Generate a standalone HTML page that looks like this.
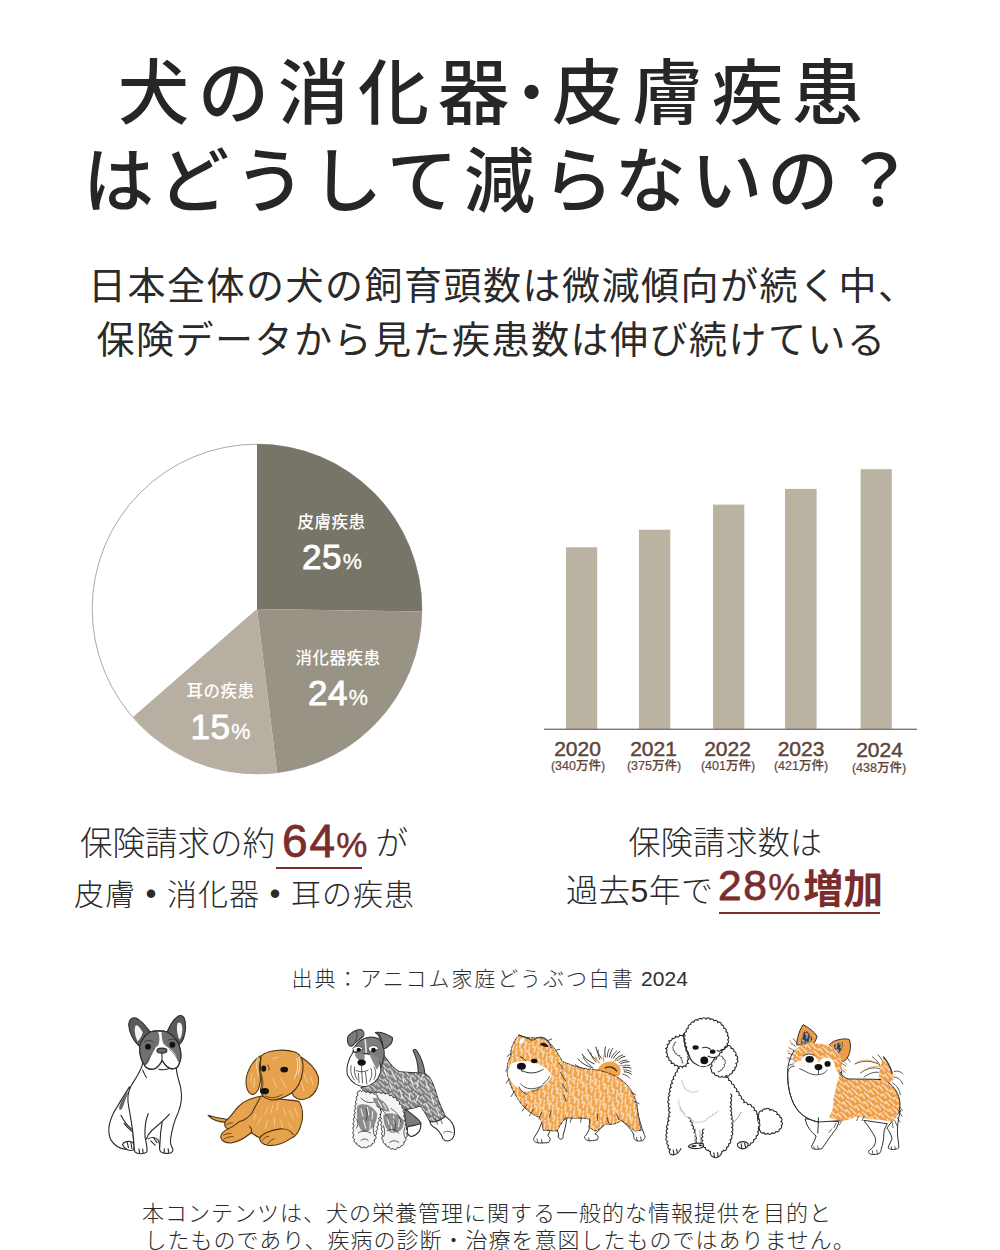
<!DOCTYPE html>
<html lang="ja">
<head>
<meta charset="utf-8">
<title>犬の消化器・皮膚疾患はどうして減らないの？</title>
<style>
html,body{margin:0;padding:0;background:#fff;}
body{width:1000px;height:1250px;position:relative;overflow:hidden;
  font-family:"Liberation Sans","Noto Sans CJK JP",sans-serif;color:#2a2a2a;}
.t{position:absolute;white-space:nowrap;line-height:1;margin:0;}
.title{font-size:71px;font-weight:500;letter-spacing:11px;color:#262626;font-feature-settings:"palt";}
.k span{position:relative;}
.sub{font-size:38px;font-weight:400;letter-spacing:1.5px;color:#2a2a2a;}
.cap{font-size:32px;font-weight:300;letter-spacing:.3px;color:#2a2a2a;}
.num{color:#7b2d2d;-webkit-text-stroke:.8px #7b2d2d;}
.cap b{font-weight:900;}
.ul{position:absolute;height:2.2px;background:#7b2d2d;}
.src{font-size:21px;font-weight:300;color:#2e2e2e;letter-spacing:1.9px;}
.foot{font-size:22px;font-weight:300;color:#2a2a2a;letter-spacing:1px;}
svg{position:absolute;left:0;top:0;}
svg text{font-family:"Liberation Sans","Noto Sans CJK JP",sans-serif;}
</style>
</head>
<body>

<!-- Title -->
<div class="t title" style="left:118px;top:58px;letter-spacing:9px;font-feature-settings:normal;">犬の消化器<span style="display:inline-block;width:43px;height:71px;vertical-align:top;position:relative;margin-left:-9px;letter-spacing:0;"><span style="position:absolute;left:-8px;top:6px;font-size:61px;line-height:1;font-weight:500;">・</span></span>皮膚疾患</div>
<div class="t title k" style="left:84px;top:146px;"><span style="left:-1px">は</span><span style="left:-7px">ど</span><span style="left:-3px">う</span><span style="left:4px">し</span><span style="left:8px">て</span><span style="left:6px">減</span><span style="left:8px">ら</span><span style="left:2px">な</span><span style="left:-1px">い</span><span style="left:-3px">の</span><span style="left:2px">？</span></div>

<!-- Subtitle -->
<div class="t sub" style="left:88px;top:267px;">日本全体の犬の飼育頭数は微減傾向が続く中、</div>
<div class="t sub" style="left:96.5px;top:320.5px;">保険データから見た疾患数は伸び続けている</div>

<!-- Charts -->
<svg width="1000" height="1250" viewBox="0 0 1000 1250">
  <!-- pie -->
  <g id="pie">
    <circle cx="257" cy="609" r="164.8" fill="#fff" stroke="#a9a9a9" stroke-width="1"/>
    <path d="M257,609 L257,444 A165,165 0 0 1 421.9,611.6 Z" fill="#777468"/>
    <path d="M257,609 L421.9,611.6 A165,165 0 0 1 277,772.8 Z" fill="#999385"/>
    <path d="M257,609 L277,772.8 A165,165 0 0 1 133,717 Z" fill="#b7b0a2"/>
  </g>
  <g fill="#fff">
    <text x="331.5" y="528" font-size="16.5" font-weight="500" text-anchor="middle" letter-spacing="0.5">皮膚疾患</text>
    <text x="302" y="568.5" font-size="35" letter-spacing="0.6" stroke="#fff" stroke-width="0.9">25<tspan font-size="21.5" dx="0.5" stroke-width="0.3">%</tspan></text>
    <text x="338" y="664" font-size="16.5" font-weight="500" text-anchor="middle" letter-spacing="0.5">消化器疾患</text>
    <text x="308" y="704.5" font-size="35" letter-spacing="0.6" stroke="#fff" stroke-width="0.9">24<tspan font-size="21.5" dx="0.5" stroke-width="0.3">%</tspan></text>
    <text x="220.5" y="697" font-size="16.5" font-weight="500" text-anchor="middle" letter-spacing="0.5">耳の疾患</text>
    <text x="190.5" y="738.5" font-size="35" letter-spacing="0.6" stroke="#fff" stroke-width="0.9">15<tspan font-size="21.5" dx="0.5" stroke-width="0.3">%</tspan></text>
  </g>

  <!-- bars -->
  <g fill="#bbb3a1">
    <rect x="566" y="547.3" width="31.2" height="182"/>
    <rect x="639" y="529.7" width="31.3" height="200"/>
    <rect x="713" y="504.6" width="31.3" height="225"/>
    <rect x="785" y="488.9" width="31.6" height="241"/>
    <rect x="860.6" y="469.2" width="31.2" height="260"/>
  </g>
  <rect x="544" y="728.6" width="373" height="1.4" fill="#8a726b"/>
  <g fill="#5e4438" text-anchor="middle" stroke="#5e4438">
    <g font-size="21" stroke-width="0.45">
      <text x="577.5" y="755.6">2020</text>
      <text x="653.5" y="755.6">2021</text>
      <text x="727.5" y="755.6">2022</text>
      <text x="801" y="755.6">2023</text>
      <text x="879.5" y="757">2024</text>
    </g>
    <g font-size="12.5" font-weight="500" stroke-width="0.2">
      <text x="578" y="770.3">(340万件)</text>
      <text x="654" y="770.3">(375万件)</text>
      <text x="728" y="770.3">(401万件)</text>
      <text x="801" y="770.3">(421万件)</text>
      <text x="879" y="772.3">(438万件)</text>
    </g>
  </g>
</svg>

<!-- Captions -->
<div class="t cap" style="left:80px;top:828px;font-size:32.5px;letter-spacing:0;">保険請求の約</div>
<div class="t num" style="left:282px;top:817.5px;font-size:46px;letter-spacing:2px;">64<span style="font-size:35px;margin-left:-1px;letter-spacing:0;-webkit-text-stroke-width:.5px;">%</span></div>
<div class="t cap" style="left:375.5px;top:828px;font-size:32.5px;">が</div>
<div class="ul" style="left:276px;top:866.7px;width:85.5px;"></div>
<div class="t cap" style="left:74px;top:879.5px;font-size:30px;letter-spacing:1px;">皮膚<b>・</b>消化器<b>・</b>耳の疾患</div>

<div class="t cap" style="left:628.5px;top:827px;">保険請求数は</div>
<div class="t cap" style="left:566px;top:875px;">過去5年で</div>
<div class="t num" style="left:718px;top:865px;font-size:42.5px;letter-spacing:1.5px;">28<span style="font-size:36px;margin-left:0px;-webkit-text-stroke-width:.5px;letter-spacing:0;">%</span><span style="font-size:40px;font-weight:700;-webkit-text-stroke-width:0;margin-left:3px;letter-spacing:0;position:relative;top:2.5px;">増加</span></div>
<div class="ul" style="left:719px;top:912.2px;width:161px;"></div>

<!-- Dogs -->
<svg width="1000" height="1250" viewBox="0 0 1000 1250" fill="none" stroke="#333" stroke-linecap="round" stroke-linejoin="round">
<defs>
  <pattern id="hatch" patternUnits="userSpaceOnUse" width="62" height="54" patternTransform="rotate(28)">
    <path d="M6,2 L14,36 M36,20 L46,52 M24,-8 L29,10 M54,-4 L58,14" stroke="#fff" stroke-width="8" stroke-opacity=".8" fill="none"/>
  </pattern>
  <pattern id="hatch2" patternUnits="userSpaceOnUse" width="70" height="60" patternTransform="rotate(-24)">
    <path d="M6,2 L16,42 M40,20 L52,58 M28,-8 L33,12 M60,-4 L65,16" stroke="#fff" stroke-width="9" stroke-opacity=".8" fill="none"/>
  </pattern>
</defs>
<!-- DOGS START -->
<g id="dog-frenchbulldog" transform="translate(90,1005) scale(0.124)" stroke-width="9" stroke="#2c2c2c">
  <!-- haunch / back -->
  <path d="M318,660 C280,720 230,800 190,870 C150,950 140,1030 170,1090 C200,1140 250,1160 290,1165 L350,1165 L352,1100 Z" fill="#fff"/>
  <path d="M300,690 C280,730 250,770 235,820 C232,850 245,855 262,830 C275,800 285,760 305,715 Z" fill="#6a6a6a" stroke="none"/>
  <path d="M250,890 C275,940 300,975 335,1000 M275,955 C295,985 315,1000 340,1020"/>
  <!-- rear paw left -->
  <path d="M262,1125 C270,1100 310,1095 340,1105 C360,1120 362,1150 350,1170 C320,1180 280,1170 262,1125 Z M300,1105 L310,1150 M330,1108 L338,1158" fill="#fff"/>
  <!-- body -->
  <path d="M425,470 C410,540 360,600 330,655 C300,710 300,760 312,820 C325,890 345,1000 352,1090 L362,1185 L458,1185 L444,1060 L470,880 L580,950 L565,1100 L562,1165 L668,1160 L650,1080 C660,1010 680,930 710,870 C740,800 745,730 730,660 C712,600 700,560 695,505 Z" fill="#fff" stroke="none"/>
  <path d="M425,470 C410,540 360,600 330,655 C300,710 300,760 312,820 C325,890 345,1000 352,1090 C356,1140 355,1170 362,1185 C380,1205 440,1205 458,1185 C468,1160 450,1110 444,1060 C440,1000 448,930 470,875 M582,945 C572,1000 566,1060 565,1100 C563,1130 558,1150 562,1165 C565,1190 590,1197 620,1197 C660,1197 672,1180 668,1160 C655,1140 645,1120 650,1080 C660,1010 680,930 710,870 C740,800 745,730 730,660 C712,600 700,560 695,505"/>
  <path d="M640,880 C600,930 540,975 500,1010 C475,1035 462,1055 455,1080 M425,525 C435,550 445,570 455,585"/>
  <path d="M470,1080 C495,1062 530,1065 550,1090 C560,1110 565,1130 562,1150 M515,1075 L540,1110 M490,1095 L525,1130"/>
  <path d="M395,1160 L400,1195 M425,1162 L428,1198 M600,1160 L598,1192 M630,1160 L635,1190"/>
  <!-- ears -->
  <path d="M400,335 C350,290 315,220 312,160 C315,110 345,92 385,112 C430,140 460,185 485,218 Z" fill="#5a5a5a"/>
  <path d="M365,170 C380,150 400,180 425,220 C420,250 400,280 385,295 C365,260 355,210 365,170 Z" fill="#f4f4f4" stroke="none"/>
  <path d="M622,218 C645,160 680,105 722,85 C760,80 772,120 770,190 C765,250 750,295 722,318 Z" fill="#5a5a5a"/>
  <path d="M705,150 C725,125 745,150 745,200 C742,240 735,265 722,280 C705,250 695,190 705,150 Z" fill="#f4f4f4" stroke="none"/>
  <!-- head -->
  <path d="M485,218 C520,205 590,205 622,218 C680,250 720,300 730,370 C738,420 730,450 720,470 C715,500 690,515 660,515 C625,510 600,480 582,448 C565,480 545,510 510,518 C475,520 450,505 440,485 C410,450 400,400 400,335 C415,280 445,240 485,218 Z" fill="#fff"/>
  <path d="M485,218 C510,210 535,212 548,218 C565,250 562,300 550,325 C520,345 500,380 488,420 C478,455 465,480 445,488 C410,450 400,400 400,335 C415,280 445,240 485,218 Z" fill="#707070" stroke="none"/>
  <path d="M578,212 C595,210 610,212 622,218 C680,250 720,300 730,370 C738,420 730,450 720,468 C705,430 690,390 650,355 C620,335 600,325 592,310 C580,280 575,240 578,212 Z" fill="#707070" stroke="none"/>
  <path d="M485,218 C520,205 590,205 622,218 C680,250 720,300 730,370 C738,420 730,450 720,470 C715,500 690,515 660,515 C625,510 600,480 582,448 C565,480 545,510 510,518 C475,520 450,505 440,485 C410,450 400,400 400,335 C415,280 445,240 485,218 Z"/>
  <circle cx="468" cy="336" r="24" fill="#111" stroke="none"/>
  <circle cx="664" cy="320" r="24" fill="#111" stroke="none"/>
  <path d="M440,295 C460,280 490,282 510,300 M630,285 C650,270 685,272 700,290" stroke-width="6"/>
  <ellipse cx="580" cy="368" rx="40" ry="20" fill="#666"/>
  <path d="M580,390 L581,446 M555,518 C580,525 610,522 640,512"/>
  <path d="M448,475 C470,440 500,400 520,350 M715,455 C700,420 670,380 640,355" stroke-width="5"/>
</g>
<g id="dog-dachshund" transform="translate(200,1035) scale(0.13)" stroke-width="8" stroke="#4a3012" fill="#e6a24c">
  <path d="M62,618 C90,650 140,668 200,672 L215,650 C160,645 110,635 62,618 Z"/>
  <path d="M480,470 C400,480 320,510 270,580 C240,620 215,650 195,665 C185,690 190,715 215,722 C190,735 160,760 160,785 C165,815 200,830 240,830 C300,820 350,790 395,750 C420,770 445,785 460,790 C455,815 480,840 520,848 C580,855 650,830 700,795 C740,780 770,730 785,660 C795,600 780,540 760,510 C720,500 600,500 480,470 Z"/>
  <g stroke="#f4cf95" stroke-width="7" fill="none">
    <path d="M520,560 L500,610 M560,540 L545,600 M600,520 L590,580 M640,560 L660,620 M690,580 L715,640 M470,640 L440,690 M520,660 L500,720 M570,640 L575,700 M620,660 L640,720 M680,680 L710,720 M430,610 L415,650 M730,560 L750,620"/>
  </g>
  <path d="M462,482 C440,520 420,560 400,600 C370,640 330,660 300,668 M215,722 C235,715 260,700 300,668 M395,750 C400,735 395,715 380,700 M460,790 C480,760 540,730 620,722 C660,720 700,740 718,765" fill="none"/>
  <path d="M180,770 C200,760 220,755 240,758 M185,800 C210,785 235,780 255,782 M205,690 C220,680 235,675 250,676 M480,810 C495,790 510,780 530,778 M520,840 C535,815 550,805 570,800" fill="none" stroke-width="6"/>
  <!-- right ear -->
  <path d="M770,165 C830,200 890,260 910,320 C920,390 890,450 840,480 C800,505 750,500 720,470 C700,440 700,390 720,340 C745,290 760,220 770,165 Z"/>
  <!-- head -->
  <path d="M470,160 C520,115 640,105 730,130 C780,150 800,200 790,280 C780,360 740,420 700,450 C650,480 600,500 555,500 C520,498 495,480 480,465 C465,440 460,420 470,400 C475,370 468,330 468,290 C462,240 465,190 470,160 Z"/>
  <path d="M745,180 C760,230 750,290 725,335 M760,170 C775,215 770,260 755,300" stroke="#f1e6d6" stroke-width="7" fill="none"/>
  <!-- left ear -->
  <path d="M462,160 C420,190 375,250 358,320 C345,390 365,445 400,458 C435,455 458,410 465,350 C470,300 440,250 468,190 Z"/>
  <path d="M445,170 C430,210 435,260 450,310 M455,150 L475,125 M770,165 L795,140" stroke="#e9e2d8" stroke-width="7" fill="none"/>
  <g stroke="#f4cf95" stroke-width="7" fill="none">
    <path d="M400,300 L390,360 M420,330 L415,400 M800,300 L830,370 M780,360 L800,430 M850,320 L870,380 M560,180 L600,170 M620,330 L660,400 M560,340 L590,400"/>
  </g>
  <ellipse cx="490" cy="258" rx="19" ry="24" fill="#111" stroke="none"/>
  <ellipse cx="648" cy="266" rx="30" ry="22" fill="#111" stroke="none"/>
  <ellipse cx="497" cy="432" rx="34" ry="24" fill="#111" stroke="none"/>
  <path d="M505,468 C540,492 590,485 632,458 M472,300 C480,340 492,380 478,408 M520,230 C530,245 535,255 530,270" fill="none" stroke-width="6"/>
</g>
<g id="dog-schnauzer" transform="translate(335,1015) scale(0.13)" stroke-width="8" stroke="#2e2e2e" fill="#7c7c7c">
  <!-- tail -->
  <path d="M640,445 C640,380 625,320 600,275 C605,262 620,262 630,275 C665,330 685,390 692,452 Z"/>
  <!-- far hind leg -->
  <path d="M540,720 C580,760 640,790 660,830 C665,880 640,920 590,935 C560,930 545,900 550,870 C540,820 530,770 540,720 Z"/>
  <path d="M560,860 C590,850 630,850 660,835 C665,880 640,920 590,935 C560,930 548,900 560,860 Z" fill="#fff"/>
  <!-- body -->
  <path d="M340,250 C380,320 430,400 490,435 C560,445 640,440 700,455 C740,480 760,540 790,640 C810,700 830,740 850,780 C800,820 760,830 730,820 C710,780 690,740 655,700 C600,720 540,730 500,725 C470,640 420,590 300,600 C260,600 220,590 200,560 C260,540 320,480 340,420 Z"/>
  <path d="M340,250 C380,320 430,400 490,435 C560,445 640,440 700,455 C740,480 760,540 790,640 C810,700 830,740 850,780 C800,820 760,830 730,820 C710,780 690,740 655,700 C600,720 540,730 500,725 C470,640 420,590 300,600 C260,600 220,590 200,560 C260,540 320,480 340,420 Z" fill="url(#hatch2)" stroke="none"/>
  <g stroke="#e9e9e9" stroke-width="9" fill="none">
    <path d="M440,440 L470,500 M520,470 L530,520 M580,480 L600,540 M640,500 L630,560 M700,520 L720,580 M500,580 L520,640 M570,600 L580,660 M640,620 L620,670 M740,620 L760,690 M700,680 L730,740 M780,720 L800,770 M420,520 L440,570 M380,420 L400,470 M680,460 L660,500"/>
  </g>
  <!-- hind foot -->
  <path d="M850,780 C900,815 930,870 915,930 C900,972 850,982 830,950 C815,910 790,880 760,862 C740,848 730,832 730,820 C770,830 810,812 850,780 Z" fill="#fff"/>
  <path d="M835,905 C850,890 880,890 900,905 M770,800 L790,840 M810,800 L825,835" fill="none" stroke-width="6"/>
  <!-- chest and front legs -->
  <path d="M300,600 A19,19 0 0 0 311,632 A19,19 0 0 0 323,664 A19,19 0 0 0 334,696 A19,19 0 0 0 346,728 A19,19 0 0 0 353,761 A19,19 0 0 0 358,795 A19,19 0 0 0 363,828 A19,19 0 0 0 365,862 A19,19 0 0 0 368,896 A19,19 0 0 0 369,930 A18,18 0 0 0 372,963 A19,19 0 0 0 391,992 A18,18 0 0 0 416,1013 A19,19 0 0 0 447,1027 A18,18 0 0 0 480,1018 A18,18 0 0 0 509,1004 A19,19 0 0 0 529,976 A18,18 0 0 0 542,946 A19,19 0 0 0 548,912 A18,18 0 0 0 546,879 A19,19 0 0 0 539,846 A19,19 0 0 0 531,813 A19,19 0 0 0 525,779 A19,19 0 0 0 522,745 A18,18 0 0 0 513,714 A19,19 0 0 0 494,686 A19,19 0 0 0 475,657 A18,18 0 0 0 448,637 A19,19 0 0 0 419,621 A18,18 0 0 0 387,609 A19,19 0 0 0 354,605 A19,19 0 0 0 320,602 A11,11 0 0 0 300,600" fill="#f4f4f4" stroke-width="7"/>
  <path d="M185,585 A19,19 0 0 0 177,618 A19,19 0 0 0 170,651 A19,19 0 0 0 166,685 A19,19 0 0 0 162,719 A19,19 0 0 0 158,753 A19,19 0 0 0 154,786 A19,19 0 0 0 150,820 A19,19 0 0 0 148,854 A19,19 0 0 0 147,888 A19,19 0 0 0 147,922 A19,19 0 0 0 150,956 A18,18 0 0 0 167,985 A18,18 0 0 0 190,1006 A19,19 0 0 0 224,1014 A18,18 0 0 0 256,1007 A18,18 0 0 0 284,991 A19,19 0 0 0 300,961 A18,18 0 0 0 308,928 A19,19 0 0 0 313,895 A19,19 0 0 0 320,861 A19,19 0 0 0 327,828 A19,19 0 0 0 334,795 A19,19 0 0 0 345,763 A18,18 0 0 0 348,731 A19,19 0 0 0 340,698 A19,19 0 0 0 332,665 A19,19 0 0 0 324,632 A16,16 0 0 0 303,611 A19,19 0 0 0 270,604 A19,19 0 0 0 237,597 A19,19 0 0 0 204,589 A11,11 0 0 0 185,585" fill="#f4f4f4" stroke-width="7"/>
  <g stroke="none" fill="#8c8c8c">
    <path d="M172,700 C210,670 290,690 325,760 C322,840 280,900 220,900 C180,880 160,800 172,700 Z"/>
    <path d="M372,770 C420,740 490,760 530,810 C535,880 490,915 430,905 C390,880 370,830 372,770 Z"/>
    <path d="M290,640 C340,630 400,670 420,740 C380,750 320,720 290,640 Z"/>
  </g>
  <g stroke="#f4f4f4" stroke-width="8" fill="none">
    <path d="M200,720 L215,780 M250,710 L260,770 M290,740 L285,800 M220,810 L235,870 M270,820 L270,880 M400,780 L415,840 M450,775 L455,835 M495,800 L490,860 M430,850 L440,895 M330,660 L360,710 M370,680 L395,725"/>
  </g>
  <g fill="none" stroke-width="6">
    <path d="M200,640 C230,670 260,680 300,670 M320,700 C360,720 400,760 410,800 M430,720 C470,740 500,780 505,820 M400,890 C430,870 470,880 490,910 M180,905 C210,885 250,890 275,910 M200,965 C215,950 240,950 255,965 M420,980 C440,963 470,963 490,980 M240,720 C250,750 250,780 240,810 M450,800 C470,830 470,860 455,885 M165,800 C180,820 180,850 165,870 M300,850 C290,880 295,910 305,930 M372,850 C385,880 385,910 375,935 M540,860 C525,890 528,920 540,945"/>
  </g>
  <!-- head -->
  <path d="M205,190 C250,165 300,165 335,182 C372,222 386,270 376,330 C366,380 352,410 342,432 L200,330 L138,282 C150,240 170,210 205,190 Z"/>
  <path d="M232,190 C236,220 238,260 240,300" stroke="#e6e6e6" stroke-width="12" fill="none"/>
  <path d="M140,285 C100,340 80,420 100,470 C130,522 180,552 230,552 C290,542 332,500 352,440 C356,400 342,360 322,332 C282,302 240,292 200,300 Z" fill="#fff"/>
  <path d="M150,300 C170,290 200,290 225,300 C235,330 225,350 205,360 C180,350 160,330 150,300 Z M262,300 C290,295 320,310 340,340 C345,380 335,410 320,420 C300,380 280,340 262,300 Z" stroke="none" fill="#8a8a8a"/>
  <path d="M138,255 C165,232 198,236 216,262 L150,285 Z M255,252 C282,226 322,232 338,262 L270,284 Z" fill="#fff" stroke-width="5"/>
  <circle cx="182" cy="268" r="16" fill="#111" stroke="none"/>
  <circle cx="296" cy="270" r="18" fill="#111" stroke="none"/>
  <ellipse cx="205" cy="366" rx="32" ry="24" fill="#111" stroke="none"/>
  <g fill="none" stroke-width="6">
    <path d="M125,390 C115,430 125,470 150,500 M150,400 C145,440 155,470 170,495 M205,392 L205,425 M160,425 C185,440 225,440 255,425 M205,430 L212,520 M235,440 L245,530 M275,410 C290,440 285,480 265,510 M300,400 C320,430 315,470 300,495 M180,450 L185,520"/>
  </g>
  <!-- ears -->
  <path d="M100,165 C130,130 170,110 200,112 C220,120 228,140 220,160 C200,180 170,200 150,220 C135,240 120,245 110,235 C95,215 92,190 100,165 Z"/>
  <path d="M310,135 C350,125 410,150 442,175 C445,200 430,225 410,240 C395,255 380,262 372,255 C365,220 350,180 330,150 Z"/>
  <path d="M165,125 C175,150 170,175 155,200 M335,140 C355,170 365,200 370,235" fill="none" stroke-width="6"/>
</g>
<g id="dog-pomeranian" transform="translate(495,1015) scale(0.16)" stroke-width="6" stroke="#2b2b2b" fill="#f0a54e">
  <!-- tail plume -->
  <g fill="none" stroke-width="6">
    <path d="M610,330 C570,320 540,300 520,275 M620,305 C585,290 560,270 545,245 M640,285 C610,265 590,240 580,215 M665,270 C645,245 635,225 630,200 M690,262 C685,240 685,220 690,200 M715,262 C720,240 725,225 735,210 M740,270 C752,250 765,238 780,228 M765,285 C780,270 795,262 812,258 M785,305 C802,295 820,292 838,292 M800,330 C818,325 835,326 850,332 M808,355 C825,355 840,360 852,370 M560,335 C535,335 515,325 500,310 M590,345 C560,350 540,348 520,340"/>
    <path d="M600,318 C575,300 560,285 552,262 M632,295 C612,275 602,258 598,236 M655,278 C645,255 642,238 645,218 M702,262 C702,245 706,228 714,212 M728,266 C738,248 748,236 760,226 M752,278 C768,262 782,254 798,250 M776,296 C792,286 808,282 824,282 M795,318 C812,312 828,312 842,316 M805,343 C822,342 838,346 850,354 M800,370 C818,374 832,382 842,394 M575,340 C550,340 530,332 512,318" stroke-width="5"/>
    <path d="M655,300 C640,290 632,278 630,262 M680,290 C675,275 676,262 682,250 M740,295 C752,282 764,276 778,274 M770,320 C786,314 800,314 812,320" stroke="#e9a050" stroke-width="7"/>
  </g>
  <path d="M640,350 C650,310 690,285 735,292 C780,305 795,340 780,375 C760,395 700,390 640,350 Z" stroke="none"/>
  <path d="M690,330 C715,318 745,325 760,350" fill="none" stroke="#3a2a1a" stroke-width="9"/>
  <!-- legs (white) -->
  <path d="M300,640 C290,690 270,730 245,765 C235,785 250,800 280,800 L335,798 C350,780 345,765 330,755 C345,720 360,690 380,660 Z" fill="#fff"/>
  <path d="M380,700 C395,725 400,745 395,765 C410,785 430,775 425,755 C435,720 445,680 450,645 Z" fill="#fff"/>
  <path d="M590,650 C600,700 585,735 560,760 C560,780 580,790 610,785 L640,780 C650,760 640,745 625,745 C650,720 670,700 690,680 Z" fill="#fff"/>
  <path d="M790,660 C830,690 855,720 868,750 C862,775 880,790 905,788 C935,785 945,765 932,745 C915,700 900,650 890,600 Z" fill="#fff"/>
  <!-- body -->
  <path id="pomBody" d="M150,125 C200,150 250,140 300,145 C350,170 390,230 420,290 C470,310 540,340 620,340 C680,350 740,370 775,395 C830,430 880,500 890,580 C895,640 900,680 915,720 L870,725 C850,700 820,680 790,660 C760,680 720,690 690,680 C670,700 650,715 625,725 L585,700 C595,680 595,665 590,650 C540,640 480,650 440,640 C420,670 400,700 385,725 L300,720 C300,690 290,665 280,640 C220,620 170,570 140,520 C110,470 90,430 80,380 C70,330 80,290 100,250 C95,220 110,170 150,125 Z" stroke-dasharray="18 9"/>
  <path d="M150,125 C200,150 250,140 300,145 C350,170 390,230 420,290 C470,310 540,340 620,340 C680,350 740,370 775,395 C830,430 880,500 890,580 C895,640 900,680 915,720 L870,725 C850,700 820,680 790,660 C760,680 720,690 690,680 C670,700 650,715 625,725 L585,700 C595,680 595,665 590,650 C540,640 480,650 440,640 C420,670 400,700 385,725 L300,720 C300,690 290,665 280,640 C220,620 170,570 140,520 C110,470 90,430 80,380 C70,330 80,290 100,250 C95,220 110,170 150,125 Z" fill="url(#hatch)" stroke="none"/>
  <!-- face + ruff white -->
  <path d="M100,305 C140,285 200,282 250,300 C300,312 345,345 352,385 C335,430 270,470 195,478 C140,465 100,425 82,380 C78,350 85,325 100,305 Z" fill="#fff" stroke="none"/>
  <path d="M160,430 C190,470 250,470 300,440 M150,450 C160,475 180,490 200,495 M230,475 C245,480 265,470 280,455 M300,430 C320,420 335,400 340,385" fill="none" stroke-width="5"/>
  <g fill="none" stroke="#f9d6a2" stroke-width="8">
    <path d="M450,380 L500,430 M520,400 L570,450 M600,400 L650,460 M680,430 L720,490 M760,470 L800,540 M470,480 L520,540 M560,500 L600,570 M650,520 L690,590 M740,560 L770,620 M380,460 L420,520 M330,520 L370,580 M250,540 L300,590 M180,200 L220,250 M260,190 L300,240 M340,260 L370,320 M820,600 L850,660"/>
  </g>
  <g fill="none" stroke-width="5">
    <path d="M400,300 L430,340 M410,360 L440,410 M420,430 L450,480 M430,500 L445,540 M200,560 L170,600 M240,590 L215,630 M290,610 L275,650 M350,600 L340,640 M480,640 L470,670 M540,640 L535,670 M640,620 L640,660 M700,640 L710,675 M760,620 L775,655 M850,480 L880,500 M870,540 L900,555 M100,240 L75,260 M85,330 L65,350 M90,400 L70,425 M120,480 L100,510 M330,160 L355,150 M380,220 L405,215"/>
  </g>
  <!-- ear -->
  <path d="M280,185 C295,165 320,170 335,195 C325,205 300,200 280,185 Z" fill="#2a1a10" stroke="none"/>
  <path d="M150,125 C170,135 195,140 215,150" fill="none"/>
  <path d="M150,175 C155,155 165,145 178,142 C185,155 180,170 165,180 Z" fill="#fff" stroke="none"/>
  <path d="M215,150 C225,160 240,160 252,150 C270,135 300,135 320,150 C340,170 350,190 352,205" fill="none"/>
  <!-- face -->
  <ellipse cx="245" cy="288" rx="20" ry="14" fill="#111" stroke="none"/>
  <ellipse cx="165" cy="320" rx="28" ry="22" fill="#111" stroke="none"/>
  <path d="M175,350 C215,372 270,362 300,340 M165,342 L170,355 M160,262 C175,268 185,275 190,285" fill="none" stroke-width="6"/>
  <!-- paws detail -->
  <path d="M262,775 L268,798 M290,778 L295,800 M585,768 L590,786 M885,765 L888,786 M910,762 L915,784" fill="none" stroke-width="5"/>
</g>
<g id="dog-poodle" transform="translate(655,1010) scale(0.14)" stroke-width="8" stroke="#2c2c2c" fill="none">
  <path d="M742,740 A17,17 0 0 1 767,723 A16,16 0 0 1 792,709 A16,16 0 0 1 821,717 A17,17 0 0 1 850,725 A16,16 0 0 1 871,746 A17,17 0 0 1 892,767 A16,16 0 0 1 900,796 A16,16 0 0 1 902,825 A16,16 0 0 1 887,850 A15,15 0 0 1 864,867 A17,17 0 0 1 836,877 A16,16 0 0 1 807,880 A17,17 0 0 1 777,875 A15,15 0 0 1 752,862 A16,16 0 0 1 742,836 A16,16 0 0 1 742,806 A16,16 0 0 1 742,776 A16,16 0 0 1 742,746" fill="#fff"/>
  <path d="M175,415 L100,650 L85,900 L110,1000 L430,1050 L640,985 L742,820 L690,690 L600,610 L505,480 Z" fill="#fff" stroke="none"/>
  <path d="M175,415 A17,17 0 0 0 161,441 A17,17 0 0 0 147,468 A16,16 0 0 0 135,495 A16,16 0 0 0 126,524 A16,16 0 0 0 117,553 A16,16 0 0 0 111,582 A17,17 0 0 0 106,612 A16,16 0 0 0 101,641 A16,16 0 0 0 102,671 A17,17 0 0 0 106,701 A16,16 0 0 0 109,731 A16,16 0 0 0 106,760 A16,16 0 0 0 101,790 A17,17 0 0 0 95,819 A16,16 0 0 0 91,849 A17,17 0 0 0 88,879 A16,16 0 0 0 86,908 A16,16 0 0 0 91,938 A16,16 0 0 0 98,967 A16,16 0 0 0 110,995" />
  <path d="M505,480 A18,18 0 0 1 526,504 A18,18 0 0 1 546,529 A18,18 0 0 1 566,554 A18,18 0 0 1 582,581 A18,18 0 0 1 599,609 A18,18 0 0 1 616,636 A18,18 0 0 1 634,663 A17,17 0 0 1 662,677 A18,18 0 0 1 691,691 A18,18 0 0 1 708,717 A18,18 0 0 1 726,744 A17,17 0 0 1 734,774 A18,18 0 0 1 740,806 A17,17 0 0 1 739,837 A18,18 0 0 1 732,869 A17,17 0 0 1 722,899 A18,18 0 0 1 704,925 A17,17 0 0 1 684,949 A18,18 0 0 1 656,965 A10,10 0 0 1 640,975" />
  <path d="M540,600 A17,17 0 0 1 539,630 A17,17 0 0 1 537,660 A17,17 0 0 1 536,690 A16,16 0 0 1 538,720 A17,17 0 0 1 541,749 A17,17 0 0 1 545,779 A16,16 0 0 1 548,809 A17,17 0 0 1 547,839 A16,16 0 0 1 546,869 A16,16 0 0 1 545,899 A16,16 0 0 1 535,927 A16,16 0 0 1 525,956 A16,16 0 0 1 510,980 A16,16 0 0 1 488,1002 A7,7 0 0 1 480,1010" />
  <path d="M350,850 A15,15 0 0 0 346,878 A15,15 0 0 0 342,905 A15,15 0 0 0 342,933 A15,15 0 0 0 347,961 A14,14 0 0 0 361,983 A15,15 0 0 0 383,1000 A9,9 0 0 0 395,1010" />
  <path d="M240,770 A15,15 0 0 1 251,796 A15,15 0 0 1 262,822 A15,15 0 0 1 270,848 A15,15 0 0 1 278,875 A15,15 0 0 1 285,902 A15,15 0 0 1 288,930 A11,11 0 0 1 290,950" />
  <path d="M180,700 A14,14 0 0 0 197,720 A14,14 0 0 0 213,740 A14,14 0 0 0 230,760 A14,14 0 0 0 252,773 A14,14 0 0 0 275,786 A14,14 0 0 0 298,799 A14,14 0 0 0 323,795 A14,14 0 0 0 348,790 A14,14 0 0 0 369,775 A14,14 0 0 0 389,759 A14,14 0 0 0 411,744 A14,14 0 0 0 433,730 A11,11 0 0 0 450,720" stroke="#bbb" stroke-width="6"/>
  <path d="M195,500 A13,13 0 0 0 203,523 A13,13 0 0 0 210,546 A12,12 0 0 0 223,564 A13,13 0 0 0 245,574 A13,13 0 0 0 267,583 A13,13 0 0 0 290,580 A11,11 0 0 0 310,575" stroke="#bbb" stroke-width="6"/>
  <path d="M170,640 A13,13 0 0 0 176,663 A13,13 0 0 0 182,687 A13,13 0 0 0 190,709 A13,13 0 0 0 203,729 A7,7 0 0 0 210,740" stroke="#bbb" stroke-width="6"/>
  <path d="M110,995 C95,1010 100,1030 125,1035 C150,1035 175,1015 185,990 M130,1000 L135,1030 M155,995 L160,1022" />
  <path d="M395,1010 C390,1035 410,1055 435,1055 C460,1050 475,1030 480,1010 M420,1020 L425,1052 M448,1018 L450,1048" />
  <path d="M590,955 C585,975 600,990 625,992 C650,992 668,975 665,955 C650,935 610,935 590,955 Z M615,955 L620,990 M640,952 L648,985" fill="#fff"/>
  <path d="M238,975 C250,955 300,945 345,955 C350,970 340,985 320,988 C290,992 255,990 238,975 Z" fill="#fff"/>
  <path d="M255,972 C270,962 290,962 300,970 C290,980 270,982 255,972 Z M310,962 C322,958 335,960 340,968 C330,976 318,974 310,962 Z" fill="#222" stroke="none"/>
  <path d="M290,850 L285,940 M320,860 L325,945" stroke="#aaa" stroke-width="7"/>
  <path d="M560,800 C580,790 600,760 615,730 M548,820 C555,800 556,780 552,760" stroke="#888" stroke-width="6"/>
  <path d="M205,170 A17,17 0 0 1 176,178 A16,16 0 0 1 147,187 A17,17 0 0 1 122,202 A16,16 0 0 1 98,219 A16,16 0 0 1 86,247 A16,16 0 0 1 75,274 A17,17 0 0 1 78,304 A16,16 0 0 1 82,333 A17,17 0 0 1 98,359 A16,16 0 0 1 115,383 A16,16 0 0 1 141,398 A16,16 0 0 1 167,411 A16,16 0 0 1 197,413 A14,14 0 0 1 222,405 A17,17 0 0 1 240,381 A16,16 0 0 1 242,351 A17,17 0 0 1 245,321 A16,16 0 0 1 237,292 A16,16 0 0 1 229,263 A16,16 0 0 1 221,234 A16,16 0 0 1 214,205 A17,17 0 0 1 207,176" fill="#fff"/>
  <path d="M520,255 A17,17 0 0 1 543,275 A16,16 0 0 1 563,296 A16,16 0 0 1 574,324 A16,16 0 0 1 585,352 A16,16 0 0 1 577,381 A16,16 0 0 1 570,410 A17,17 0 0 1 553,435 A16,16 0 0 1 535,457 A17,17 0 0 1 507,468 A16,16 0 0 1 478,473 A16,16 0 0 1 449,467 A16,16 0 0 1 425,450 A16,16 0 0 1 405,428 A16,16 0 0 1 408,399 A16,16 0 0 1 421,373 A17,17 0 0 1 440,350 A17,17 0 0 1 459,327 A17,17 0 0 1 479,304 A16,16 0 0 1 498,281 A16,16 0 0 1 517,258" fill="#fff"/>
  <path d="M235,300 L215,170 L330,65 L470,100 L520,230 L440,300 L420,380 L340,410 L280,380 Z" fill="#fff" stroke="none"/>
  <path d="M235,300 A16,16 0 0 1 227,271 A16,16 0 0 1 219,242 A16,16 0 0 1 215,213 A16,16 0 0 1 215,183 A16,16 0 0 1 224,155 A17,17 0 0 1 239,130 A17,17 0 0 1 255,104 A16,16 0 0 1 278,87 A16,16 0 0 1 306,75 A16,16 0 0 1 334,65 A16,16 0 0 1 364,66 A16,16 0 0 1 394,68 A16,16 0 0 1 421,78 A17,17 0 0 1 449,90 A16,16 0 0 1 474,106 A17,17 0 0 1 490,131 A16,16 0 0 1 506,156 A16,16 0 0 1 516,183 A17,17 0 0 1 519,213 A16,16 0 0 1 514,241 A16,16 0 0 1 499,268 A15,15 0 0 1 474,281 A17,17 0 0 1 445,289" />
  <path d="M235,300 C245,340 265,375 290,385 C320,412 370,412 400,385 C415,365 425,345 430,335 M380,330 C395,338 415,340 432,338 M340,270 C360,262 380,268 395,280" />
  <path d="M150,230 A13,13 0 0 0 139,251 A13,13 0 0 0 131,273 A13,13 0 0 0 142,294 A13,13 0 0 0 156,313 A13,13 0 0 0 177,324 A12,12 0 0 0 192,340 A13,13 0 0 0 197,363 A9,9 0 0 0 200,380" stroke-width="6"/>
  <path d="M470,330 A13,13 0 0 1 484,349 A13,13 0 0 1 499,368 A13,13 0 0 1 492,390 A13,13 0 0 1 483,413 A13,13 0 0 1 467,429 A11,11 0 0 1 450,440" stroke-width="6"/>
  <ellipse cx="290" cy="268" rx="22" ry="16" fill="#111" stroke="none"/>
  <ellipse cx="412" cy="298" rx="20" ry="15" fill="#111" stroke="none"/>
  <ellipse cx="352" cy="360" rx="28" ry="27" fill="#111" stroke="none"/>
</g>
<g id="dog-chihuahua" transform="translate(780,1010) scale(0.14)" stroke-width="7" stroke="#2b2b2b" fill="#ee9d45">
  <!-- tail -->
  <g fill="none" stroke-width="6">
    <path d="M700,385 C650,360 590,360 535,385 M715,420 C670,405 620,415 575,450 M705,445 C670,440 630,455 600,480" stroke="#3a3a3a"/>
    <path d="M690,375 C640,350 585,355 545,375 M720,405 C680,395 640,405 600,430" stroke="#e9a050"/>
    <path d="M815,440 C840,430 862,440 880,458 M815,480 C845,480 865,500 878,530 M805,520 C835,540 855,570 860,605 M790,540 C815,560 830,590 835,620 M700,320 C720,340 740,370 750,400 M660,335 C685,350 705,375 715,400" stroke="#3a3a3a"/>
  </g>
  <path d="M705,495 C710,430 720,370 740,335 C775,380 805,430 815,490 C800,515 780,525 760,520 Z" stroke="none"/>
  <path d="M705,495 C710,430 720,370 740,335 C775,380 805,430 815,490 C800,515 780,525 760,520 Z" fill="url(#hatch2)" stroke="none"/>
  <path d="M740,335 C765,365 790,410 800,450" fill="none" stroke-width="9"/>
  <!-- far hind leg -->
  <path d="M860,720 C845,770 835,830 840,900 C845,940 850,965 848,985 C830,1000 790,1000 772,985 C775,965 790,950 800,920 C795,890 780,865 765,845 Z" fill="#fff"/>
  <!-- near hind leg -->
  <path d="M600,790 C630,830 660,870 680,910 C690,950 670,985 640,1000 C620,1020 640,1035 680,1032 C710,1030 725,1015 722,995 C735,960 742,920 742,880 C745,850 755,830 765,815 Z" fill="#fff"/>
  <!-- front legs -->
  <path d="M180,780 C190,830 220,870 258,900 C250,930 235,955 225,975 C225,995 260,1000 300,990 C320,960 360,900 400,850 C410,830 418,812 420,800 Z" fill="#fff"/>
  <!-- chest white -->
  <path d="M100,290 C70,340 50,400 55,470 C55,560 80,660 130,720 C170,765 220,790 275,800 L440,790 L440,440 Z" fill="#fff"/>
  <!-- body orange -->
  <path id="chiBody" d="M430,440 C445,470 460,485 485,492 C560,495 640,492 720,497 C770,510 830,560 852,620 C870,680 860,740 800,800 C760,790 700,780 640,780 C600,770 560,760 540,762 C500,780 470,790 440,792 C400,785 370,775 350,768 C375,730 385,680 380,640 C390,600 400,570 400,545 C415,510 425,470 430,440 Z" stroke="none"/>
  <path d="M430,440 C445,470 460,485 485,492 C560,495 640,492 720,497 C770,510 830,560 852,620 C870,680 860,740 800,800 C760,790 700,780 640,780 C600,770 560,760 540,762 C500,780 470,790 440,792 C400,785 370,775 350,768 C375,730 385,680 380,640 C390,600 400,570 400,545 C415,510 425,470 430,440 Z" fill="url(#hatch2)" stroke="none"/>
  <path d="M432,445 C445,470 460,485 485,492 C560,495 640,492 720,497 M770,515 C820,550 850,600 856,660 C858,690 855,710 850,730" fill="none"/>
  <g fill="none" stroke-width="5">
    <path d="M855,690 L875,720 M850,730 L872,760 M838,770 L858,800 M820,790 L835,825 M800,800 L808,840 M600,760 L585,790 M560,762 L548,790 M440,792 L425,820 M400,810 L385,840 M370,850 L350,875"/>
  </g>
  <!-- ears -->
  <path d="M118,245 C125,190 140,140 165,105 C205,125 245,155 265,188 C258,215 245,235 232,252 Z"/>
  <path d="M150,240 C150,200 160,165 180,145 C205,160 225,185 232,210 C215,230 185,245 150,240 Z" fill="#3b3b3b" stroke="none"/>
  <path d="M150,240 C150,200 160,165 180,145 C205,160 225,185 232,210 C215,230 185,245 150,240 Z" fill="url(#hatch)" stroke="none"/>
  <path d="M355,245 C375,225 400,215 430,210 C455,205 478,205 495,212 C510,250 505,300 480,345 C465,365 450,372 440,365 Z"/>
  <path d="M385,250 C405,235 430,230 450,232 C450,265 435,300 410,318 C398,300 388,275 385,250 Z" fill="#3b3b3b" stroke="none"/>
  <path d="M385,250 C405,235 430,230 450,232 C450,265 435,300 410,318 C398,300 388,275 385,250 Z" fill="url(#hatch)" stroke="none"/>
  <!-- head -->
  <path d="M105,285 C150,250 210,238 260,240 C300,242 340,250 365,262 C405,290 435,330 442,380 C445,420 430,450 400,470 C350,500 280,500 210,480 C160,465 120,440 100,400 C90,360 92,320 105,285 Z" fill="#fff" stroke="none"/>
  <path d="M105,285 C150,250 210,238 260,240 C300,242 340,250 365,262 C405,290 435,330 442,380 C445,410 438,435 425,455 C405,440 395,410 390,385 C380,350 350,335 320,340 C300,345 285,360 278,378 C268,350 250,320 215,315 C180,315 160,335 150,360 C130,365 110,370 98,385 C92,350 95,315 105,285 Z" stroke="none"/>
  <path d="M105,285 C150,250 210,238 260,240 C300,242 340,250 365,262 C405,290 435,330 442,380 C445,410 438,435 425,455 C405,440 395,410 390,385 C380,350 350,335 320,340 C300,345 285,360 278,378 C268,350 250,320 215,315 C180,315 160,335 150,360 C130,365 110,370 98,385 C92,350 95,315 105,285 Z" fill="url(#hatch2)" stroke="none"/>
  <g fill="none" stroke-width="5">
    <path d="M100,290 L65,270 M95,320 L60,310 M92,350 L58,350 M95,385 L62,395 M110,260 L80,235 M120,235 L95,205 M440,380 L470,400 M435,420 L465,445 M420,450 L445,480 M480,340 L500,370"/>
  </g>
  <g fill="none" stroke="#e9a050" stroke-width="6">
    <path d="M85,250 L70,215 M75,300 L50,290 M70,340 L48,340 M455,370 L480,390 M450,410 L475,435"/>
  </g>
  <ellipse cx="212" cy="352" rx="30" ry="24" fill="#111" stroke="none"/>
  <ellipse cx="340" cy="385" rx="22" ry="20" fill="#111" stroke="none"/>
  <ellipse cx="275" cy="408" rx="28" ry="22" fill="#111" stroke="none"/>
  <path d="M140,420 C190,435 215,470 275,462 C310,458 328,445 335,430 M275,430 L275,455 M165,330 C185,312 220,308 245,325" fill="none" stroke-width="6"/>
  <!-- chest outline -->
  <path d="M100,400 C70,400 52,430 55,470 C55,560 80,660 130,720 C170,765 220,790 275,800 M275,770 L270,880" fill="none"/>
  <path d="M240,975 L246,992 M268,972 L274,992 M660,1005 L664,1030 M690,1002 L696,1028 M795,975 L798,995 M820,975 L824,994" fill="none" stroke-width="5"/>
</g>
<!-- DOGS END -->
</svg>

<!-- Source -->
<div class="t src" style="left:291.5px;top:967.5px;">出典：アニコム家庭どうぶつ白書<span style="font-size:21px;letter-spacing:0;margin-left:6.5px;">2024</span></div>

<!-- Footer -->
<div class="t foot" style="left:142px;top:1202.5px;">本コンテンツは、犬の栄養管理に関する一般的な情報提供を目的と</div>
<div class="t foot" style="left:144.5px;top:1229.5px;">したものであり、疾病の診断・治療を意図したものではありません。</div>

</body>
</html>
